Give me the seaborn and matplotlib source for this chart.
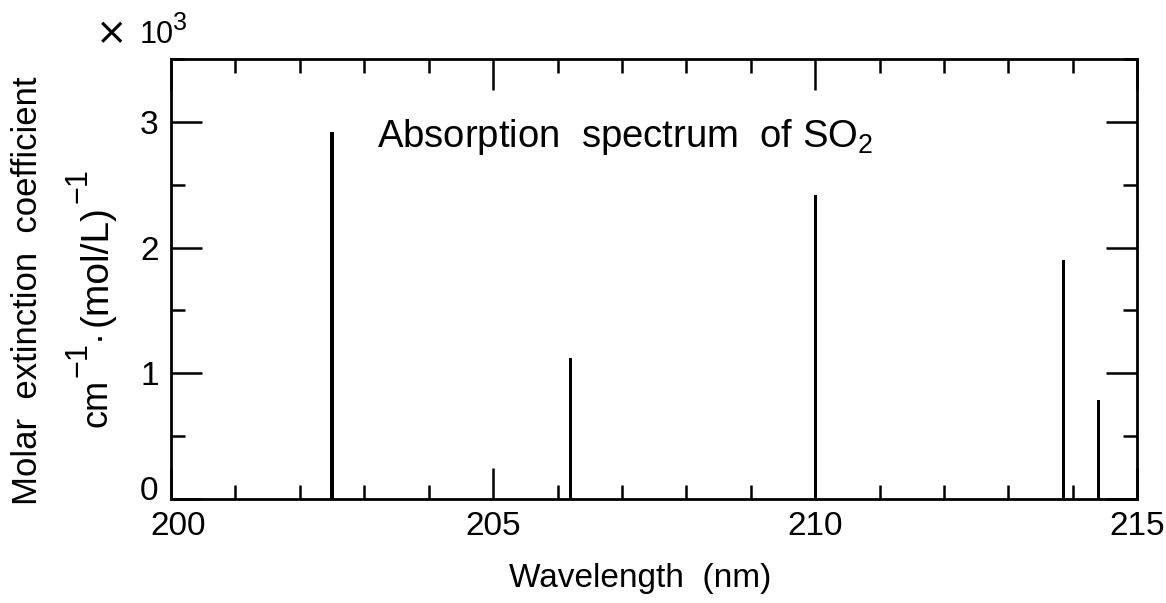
import numpy as np
import pandas as pd
import matplotlib
matplotlib.use("Agg")
import matplotlib.pyplot as plt
import matplotlib.transforms as mtransforms
from matplotlib.ticker import MultipleLocator, FixedLocator
import seaborn as sns

# ---- data ----
wavelength_nm = [202.5, 206.2, 210.0, 213.85, 214.4]
extinction_e3 = [2.92, 1.12, 2.42, 1.90, 0.79]
x_ticks = [200, 205, 210, 215]
y_ticks = [0, 1, 2, 3]

sns.set_theme(style="ticks")
plt.rcParams['font.family'] = ['Liberation Sans', 'DejaVu Sans']
plt.rcParams['mathtext.fontset'] = 'custom'
plt.rcParams['mathtext.rm'] = 'Liberation Sans'
plt.rcParams['mathtext.it'] = 'Liberation Sans:italic'
plt.rcParams['mathtext.bf'] = 'Liberation Sans:bold'
for k in ['text.color', 'axes.labelcolor', 'xtick.color', 'ytick.color', 'axes.edgecolor']:
    plt.rcParams[k] = 'black'

W, H = 1166, 603
fig = plt.figure(figsize=(W / 100, H / 100), dpi=100)
ax = fig.add_axes([0.1467, 0.1725, 0.8286, 0.7297])

df = pd.DataFrame({"wl": wavelength_nm, "eps": extinction_e3})
bar_nm = 0.05
spacing = np.min(np.diff(np.sort(df["wl"].values)))
sns.barplot(data=df, x="wl", y="eps", native_scale=True, orient="x",
            width=bar_nm / spacing, color="black", saturation=1,
            errorbar=None, linewidth=0, ax=ax)

ax.set_xlim(200, 215)
ax.set_ylim(0, 3.5)
ax.xaxis.set_major_locator(FixedLocator(x_ticks))
ax.xaxis.set_minor_locator(MultipleLocator(1))
ax.yaxis.set_major_locator(FixedLocator(y_ticks))
ax.yaxis.set_minor_locator(MultipleLocator(0.5))
ax.set_xticklabels([str(t) for t in x_ticks])
ax.set_yticklabels([str(t) for t in y_ticks])

for s in ax.spines.values():
    s.set_visible(True)
    s.set_linewidth(2.0)
    s.set_color("black")

ax.tick_params(which='both', direction='in', top=True, right=True,
               labeltop=False, labelright=False, color='black', width=1.8)
ax.tick_params(which='major', length=22, labelsize=24, pad=9)
ax.tick_params(which='minor', length=10)

# raise the "0" label, nudge "200" right
ylab = ax.get_yticklabels()
ylab[0].set_transform(ylab[0].get_transform() +
                      mtransforms.ScaledTranslation(0, 8 / 72, fig.dpi_scale_trans))
xlab = ax.get_xticklabels()
xlab[0].set_transform(xlab[0].get_transform() +
                      mtransforms.ScaledTranslation(5 / 72, 0, fig.dpi_scale_trans))

ax.set_xlabel("Wavelength  (nm)", fontsize=24, labelpad=15)
ax.xaxis.label.set_x(0.5 - 14 / 966)
ax.set_ylabel("")

# first y-label line
fig.text(28 / W, 1 - 291 / H, "Molar  extinction  coefficient",
         rotation=90, ha='center', va='center', fontsize=25)

# second y-label line, composed with full-size superscripts (rotated 90)
renderer = fig.canvas.get_renderer()
pieces = [("cm", 0, 26), ("\u22121", 21, 22), ("\u00b7", 0, 26),
          ("(mol/L)", 0, 28), ("\u22121", 21, 22)]
y_px = H - 427   # display pixels from bottom where the line starts
x_base = 107     # baseline x (pixels from left)
for txt, raise_px, size in pieces:
    t = fig.text((x_base - raise_px) / W, y_px / H, txt, rotation=90,
                 rotation_mode='anchor', ha='left', va='baseline', fontsize=size)
    bb = t.get_window_extent(renderer)
    y_px += bb.height + 2

# "× 10^3" multiplier
fig.text(112 / W, 1 - 34 / H, "\u00d7", ha='center', va='center', fontsize=27,
         family=['DejaVu Sans'])
t10 = fig.text(140 / W, 1 - 43 / H, "10", ha='left', va='baseline', fontsize=22)
bb10 = t10.get_window_extent(renderer)
fig.text((bb10.x1 - 1) / W, 1 - 30 / H, "3", ha='left', va='baseline', fontsize=18)

ax.text(203.2, 2.80, r"Absorption  spectrum  of SO$_{2}$", ha='left',
        va='baseline', fontsize=27.5)

fig.savefig("out.png", dpi=100, facecolor='white')
